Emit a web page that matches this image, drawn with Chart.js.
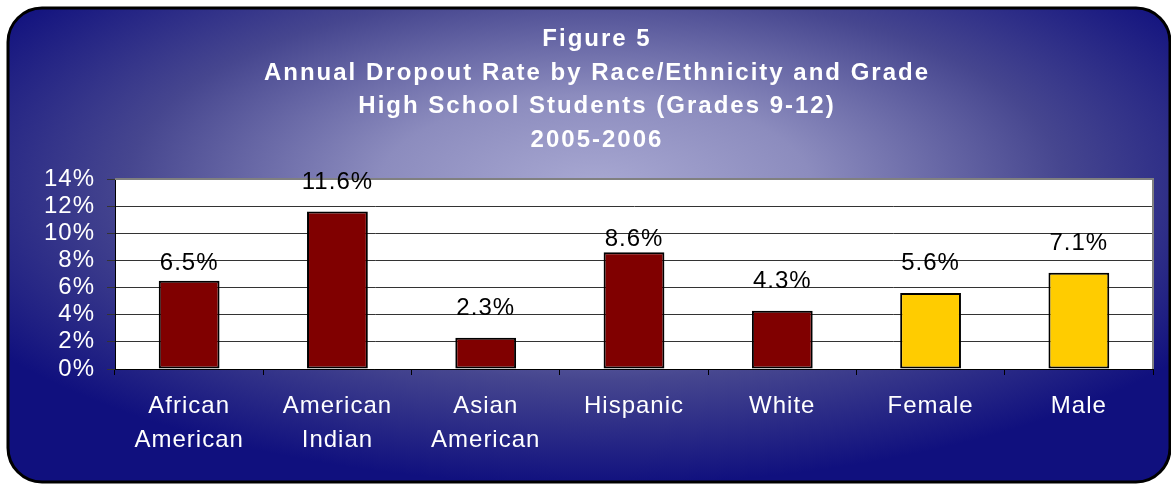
<!DOCTYPE html>
<html>
<head>
<meta charset="utf-8">
<script src="https://cdn.jsdelivr.net/npm/chart.js@4.4.1/dist/chart.umd.min.js"></script>
<style>
  html, body { margin: 0; padding: 0; background: #fff; }
  canvas { display: block; }
</style>
</head>
<body>
<canvas id="myChart" width="1171" height="488"></canvas>
<script>
// chart data
var categories = [['African', 'American'], ['American', 'Indian'], ['Asian', 'American'], 'Hispanic', 'White', 'Female', 'Male'];
var dropoutRates = [6.5, 11.6, 2.3, 8.6, 4.3, 5.6, 7.1];
var yTickValues = [0, 2, 4, 6, 8, 10, 12, 14];
var titleLines = ['Figure 5', 'Annual Dropout Rate by Race/Ethnicity and Grade', 'High School Students (Grades 9-12)', '2005-2006'];

// styling
var barColors = ['#800000', '#800000', '#800000', '#800000', '#800000', '#ffcc00', '#ffcc00'];
var labelGap = [11, 23, 23, 6, 23, 23, 23]; // label lifts, as in the original

document.addEventListener('DOMContentLoaded', function () {
  var ctx = document.getElementById('myChart').getContext('2d');

  // rounded navy frame with a soft light centre
  var frame = {
    id: 'frame',
    beforeDraw: function (chart) {
      var c = chart.ctx, a = chart.chartArea;
      c.save();
      c.beginPath();
      c.roundRect(8, 8, 1162, 474, 34);
      c.setTransform(2.4, 0, 0, 1, 595, 185);
      var g = c.createRadialGradient(0, 0, 0, 0, 0, 300);
      g.addColorStop(0, '#a8a8d2');
      g.addColorStop(0.3, '#8c8cbe');
      g.addColorStop(0.65, '#46468f');
      g.addColorStop(1, '#10107e');
      c.fillStyle = g;
      c.fill();
      c.setTransform(1, 0, 0, 1, 0, 0);
      c.lineWidth = 3;
      c.strokeStyle = '#000';
      c.stroke();
      c.fillStyle = '#fff';
      c.fillRect(a.left, a.top, a.right - a.left, a.bottom - a.top);
      c.restore();
      c.letterSpacing = '2px'; // title is drawn next
    },
    beforeDatasetsDraw: function (chart) {
      var c = chart.ctx, a = chart.chartArea;
      c.letterSpacing = '1px'; // tick labels are drawn after the bars
      c.save();
      c.strokeStyle = '#808080';
      c.lineWidth = 2;
      c.beginPath();
      c.moveTo(a.left, a.top);
      c.lineTo(a.right, a.top);
      c.lineTo(a.right, a.bottom);
      c.stroke();
      c.restore();
    },
    afterDatasetsDraw: function (chart) {
      var c = chart.ctx;
      var meta = chart.getDatasetMeta(0);
      c.save();
      c.font = '24px "Liberation Sans", Arial, sans-serif';
      c.fillStyle = '#000';
      c.textAlign = 'center';
      c.textBaseline = 'alphabetic';
      meta.data.forEach(function (bar, i) {
        c.fillText(dropoutRates[i].toFixed(1) + '%', bar.x, bar.y - labelGap[i]);
      });
      c.restore();
    }
  };

  var myChart = new Chart(ctx, {
    type: 'bar',
    data: {
      labels: categories,
      datasets: [{
        label: 'Dropout rate',
        data: dropoutRates,
        backgroundColor: barColors,
        borderColor: '#000',
        borderWidth: 2,
        borderSkipped: false,
        categoryPercentage: 1,
        barPercentage: 0.41
      }]
    },
    options: {
      responsive: false,
      animation: false,
      devicePixelRatio: 1,
      layout: { padding: { left: 41, right: 18, top: 13, bottom: 0 } },
      plugins: {
        legend: { display: false },
        tooltip: { enabled: false },
        title: {
          display: true,
          text: titleLines,
          color: '#fff',
          font: { family: '"Liberation Sans", Arial, sans-serif', size: 24, weight: 'bold', lineHeight: 1.396 },
          padding: { top: 10, bottom: 22 }
        }
      },
      scales: {
        x: {
          afterFit: function (scale) { scale.height = 119; },
          grid: { offset: true, drawOnChartArea: false, tickLength: 6, color: '#000', lineWidth: 1 },
          border: { color: '#000', width: 1 },
          ticks: {
            z: 1,
            color: '#fff',
            padding: 15,
            maxRotation: 0,
            autoSkip: false,
            font: { family: '"Liberation Sans", Arial, sans-serif', size: 24, lineHeight: 1.4 }
          }
        },
        y: {
          min: 0,
          max: 14,
          afterFit: function (scale) { scale.width = 74; },
          afterBuildTicks: function (scale) {
            scale.ticks = yTickValues.map(function (v) { return { value: v }; });
          },
          grid: { color: '#333', lineWidth: 1, tickLength: 8 },
          border: { color: '#000', width: 1 },
          ticks: {
            z: 1,
            color: '#fff',
            padding: 12,
            font: { family: '"Liberation Sans", Arial, sans-serif', size: 24, lineHeight: 1 },
            callback: function (v) { return v + '%'; }
          }
        }
      }
    },
    plugins: [frame]
  });
});
</script>
</body>
</html>
